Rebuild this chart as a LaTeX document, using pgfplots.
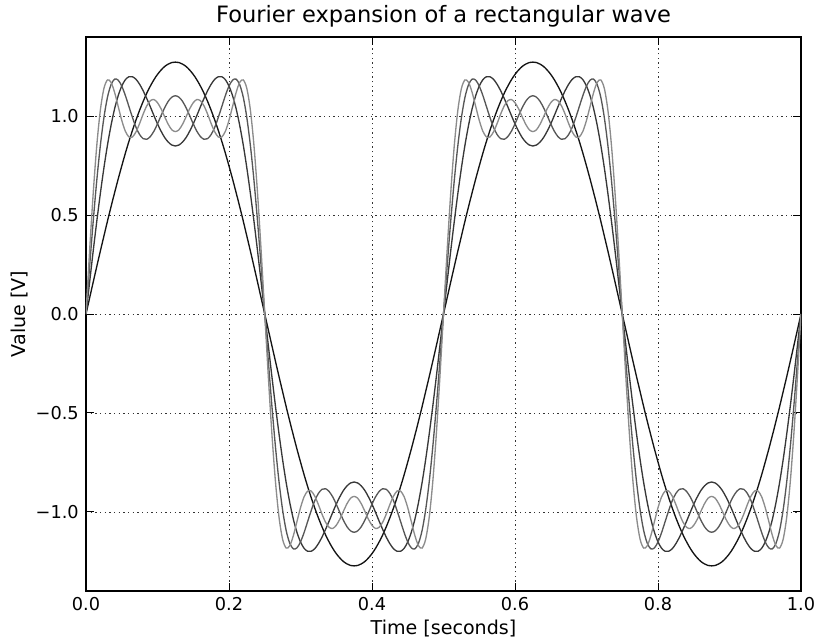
\documentclass[border=0pt]{standalone}
\usepackage{pgfplots}
\pgfplotsset{compat=1.18}
\usepackage{pgfplotstable}
\usepackage{fontspec}
\setmainfont{DejaVu Sans}
\pgfplotstableread{
t a b c d
0.000 0 0 0 0
0.005 0.080 0.159 0.238 0.316
0.010 0.160 0.316 0.465 0.606
0.015 0.239 0.466 0.672 0.848
0.020 0.317 0.607 0.849 1.028
0.025 0.393 0.737 0.991 1.139
0.030 0.469 0.853 1.095 1.183
0.035 0.542 0.953 1.159 1.171
0.040 0.613 1.037 1.187 1.120
0.045 0.682 1.103 1.182 1.049
0.050 0.748 1.152 1.152 0.979
0.055 0.812 1.184 1.105 0.924
0.060 0.872 1.199 1.049 0.895
0.065 0.928 1.199 0.993 0.895
0.070 0.981 1.186 0.943 0.921
0.075 1.030 1.161 0.907 0.963
0.080 1.075 1.128 0.886 1.011
0.085 1.116 1.089 0.883 1.052
0.090 1.152 1.047 0.897 1.078
0.095 1.184 1.003 0.924 1.084
0.100 1.211 0.961 0.961 1.068
0.105 1.233 0.924 1.003 1.037
0.110 1.251 0.892 1.042 0.997
0.115 1.263 0.869 1.075 0.959
0.120 1.271 0.854 1.096 0.931
0.125 1.273 0.849 1.103 0.922
0.130 1.271 0.854 1.096 0.931
0.135 1.263 0.869 1.075 0.959
0.140 1.251 0.892 1.042 0.997
0.145 1.233 0.924 1.003 1.037
0.150 1.211 0.961 0.961 1.068
0.155 1.184 1.003 0.924 1.084
0.160 1.152 1.047 0.897 1.078
0.165 1.116 1.089 0.883 1.052
0.170 1.075 1.128 0.886 1.011
0.175 1.030 1.161 0.907 0.963
0.180 0.981 1.186 0.943 0.921
0.185 0.928 1.199 0.993 0.895
0.190 0.872 1.199 1.049 0.895
0.195 0.812 1.184 1.105 0.924
0.200 0.748 1.152 1.152 0.979
0.205 0.682 1.103 1.182 1.049
0.210 0.613 1.037 1.187 1.120
0.215 0.542 0.953 1.159 1.171
0.220 0.469 0.853 1.095 1.183
0.225 0.393 0.737 0.991 1.139
0.230 0.317 0.607 0.849 1.028
0.235 0.239 0.466 0.672 0.848
0.240 0.160 0.316 0.465 0.606
0.245 0.080 0.159 0.238 0.316
0.250 0 0 0 0
0.255 -0.080 -0.159 -0.238 -0.316
0.260 -0.160 -0.316 -0.465 -0.606
0.265 -0.239 -0.466 -0.672 -0.848
0.270 -0.317 -0.607 -0.849 -1.028
0.275 -0.393 -0.737 -0.991 -1.139
0.280 -0.469 -0.853 -1.095 -1.183
0.285 -0.542 -0.953 -1.159 -1.171
0.290 -0.613 -1.037 -1.187 -1.120
0.295 -0.682 -1.103 -1.182 -1.049
0.300 -0.748 -1.152 -1.152 -0.979
0.305 -0.812 -1.184 -1.105 -0.924
0.310 -0.872 -1.199 -1.049 -0.895
0.315 -0.928 -1.199 -0.993 -0.895
0.320 -0.981 -1.186 -0.943 -0.921
0.325 -1.030 -1.161 -0.907 -0.963
0.330 -1.075 -1.128 -0.886 -1.011
0.335 -1.116 -1.089 -0.883 -1.052
0.340 -1.152 -1.047 -0.897 -1.078
0.345 -1.184 -1.003 -0.924 -1.084
0.350 -1.211 -0.961 -0.961 -1.068
0.355 -1.233 -0.924 -1.003 -1.037
0.360 -1.251 -0.892 -1.042 -0.997
0.365 -1.263 -0.869 -1.075 -0.959
0.370 -1.271 -0.854 -1.096 -0.931
0.375 -1.273 -0.849 -1.103 -0.922
0.380 -1.271 -0.854 -1.096 -0.931
0.385 -1.263 -0.869 -1.075 -0.959
0.390 -1.251 -0.892 -1.042 -0.997
0.395 -1.233 -0.924 -1.003 -1.037
0.400 -1.211 -0.961 -0.961 -1.068
0.405 -1.184 -1.003 -0.924 -1.084
0.410 -1.152 -1.047 -0.897 -1.078
0.415 -1.116 -1.089 -0.883 -1.052
0.420 -1.075 -1.128 -0.886 -1.011
0.425 -1.030 -1.161 -0.907 -0.963
0.430 -0.981 -1.186 -0.943 -0.921
0.435 -0.928 -1.199 -0.993 -0.895
0.440 -0.872 -1.199 -1.049 -0.895
0.445 -0.812 -1.184 -1.105 -0.924
0.450 -0.748 -1.152 -1.152 -0.979
0.455 -0.682 -1.103 -1.182 -1.049
0.460 -0.613 -1.037 -1.187 -1.120
0.465 -0.542 -0.953 -1.159 -1.171
0.470 -0.469 -0.853 -1.095 -1.183
0.475 -0.393 -0.737 -0.991 -1.139
0.480 -0.317 -0.607 -0.849 -1.028
0.485 -0.239 -0.466 -0.672 -0.848
0.490 -0.160 -0.316 -0.465 -0.606
0.495 -0.080 -0.159 -0.238 -0.316
0.500 0 0 0 0
0.505 0.080 0.159 0.238 0.316
0.510 0.160 0.316 0.465 0.606
0.515 0.239 0.466 0.672 0.848
0.520 0.317 0.607 0.849 1.028
0.525 0.393 0.737 0.991 1.139
0.530 0.469 0.853 1.095 1.183
0.535 0.542 0.953 1.159 1.171
0.540 0.613 1.037 1.187 1.120
0.545 0.682 1.103 1.182 1.049
0.550 0.748 1.152 1.152 0.979
0.555 0.812 1.184 1.105 0.924
0.560 0.872 1.199 1.049 0.895
0.565 0.928 1.199 0.993 0.895
0.570 0.981 1.186 0.943 0.921
0.575 1.030 1.161 0.907 0.963
0.580 1.075 1.128 0.886 1.011
0.585 1.116 1.089 0.883 1.052
0.590 1.152 1.047 0.897 1.078
0.595 1.184 1.003 0.924 1.084
0.600 1.211 0.961 0.961 1.068
0.605 1.233 0.924 1.003 1.037
0.610 1.251 0.892 1.042 0.997
0.615 1.263 0.869 1.075 0.959
0.620 1.271 0.854 1.096 0.931
0.625 1.273 0.849 1.103 0.922
0.630 1.271 0.854 1.096 0.931
0.635 1.263 0.869 1.075 0.959
0.640 1.251 0.892 1.042 0.997
0.645 1.233 0.924 1.003 1.037
0.650 1.211 0.961 0.961 1.068
0.655 1.184 1.003 0.924 1.084
0.660 1.152 1.047 0.897 1.078
0.665 1.116 1.089 0.883 1.052
0.670 1.075 1.128 0.886 1.011
0.675 1.030 1.161 0.907 0.963
0.680 0.981 1.186 0.943 0.921
0.685 0.928 1.199 0.993 0.895
0.690 0.872 1.199 1.049 0.895
0.695 0.812 1.184 1.105 0.924
0.700 0.748 1.152 1.152 0.979
0.705 0.682 1.103 1.182 1.049
0.710 0.613 1.037 1.187 1.120
0.715 0.542 0.953 1.159 1.171
0.720 0.469 0.853 1.095 1.183
0.725 0.393 0.737 0.991 1.139
0.730 0.317 0.607 0.849 1.028
0.735 0.239 0.466 0.672 0.848
0.740 0.160 0.316 0.465 0.606
0.745 0.080 0.159 0.238 0.316
0.750 0 0 0 0
0.755 -0.080 -0.159 -0.238 -0.316
0.760 -0.160 -0.316 -0.465 -0.606
0.765 -0.239 -0.466 -0.672 -0.848
0.770 -0.317 -0.607 -0.849 -1.028
0.775 -0.393 -0.737 -0.991 -1.139
0.780 -0.469 -0.853 -1.095 -1.183
0.785 -0.542 -0.953 -1.159 -1.171
0.790 -0.613 -1.037 -1.187 -1.120
0.795 -0.682 -1.103 -1.182 -1.049
0.800 -0.748 -1.152 -1.152 -0.979
0.805 -0.812 -1.184 -1.105 -0.924
0.810 -0.872 -1.199 -1.049 -0.895
0.815 -0.928 -1.199 -0.993 -0.895
0.820 -0.981 -1.186 -0.943 -0.921
0.825 -1.030 -1.161 -0.907 -0.963
0.830 -1.075 -1.128 -0.886 -1.011
0.835 -1.116 -1.089 -0.883 -1.052
0.840 -1.152 -1.047 -0.897 -1.078
0.845 -1.184 -1.003 -0.924 -1.084
0.850 -1.211 -0.961 -0.961 -1.068
0.855 -1.233 -0.924 -1.003 -1.037
0.860 -1.251 -0.892 -1.042 -0.997
0.865 -1.263 -0.869 -1.075 -0.959
0.870 -1.271 -0.854 -1.096 -0.931
0.875 -1.273 -0.849 -1.103 -0.922
0.880 -1.271 -0.854 -1.096 -0.931
0.885 -1.263 -0.869 -1.075 -0.959
0.890 -1.251 -0.892 -1.042 -0.997
0.895 -1.233 -0.924 -1.003 -1.037
0.900 -1.211 -0.961 -0.961 -1.068
0.905 -1.184 -1.003 -0.924 -1.084
0.910 -1.152 -1.047 -0.897 -1.078
0.915 -1.116 -1.089 -0.883 -1.052
0.920 -1.075 -1.128 -0.886 -1.011
0.925 -1.030 -1.161 -0.907 -0.963
0.930 -0.981 -1.186 -0.943 -0.921
0.935 -0.928 -1.199 -0.993 -0.895
0.940 -0.872 -1.199 -1.049 -0.895
0.945 -0.812 -1.184 -1.105 -0.924
0.950 -0.748 -1.152 -1.152 -0.979
0.955 -0.682 -1.103 -1.182 -1.049
0.960 -0.613 -1.037 -1.187 -1.120
0.965 -0.542 -0.953 -1.159 -1.171
0.970 -0.469 -0.853 -1.095 -1.183
0.975 -0.393 -0.737 -0.991 -1.139
0.980 -0.317 -0.607 -0.849 -1.028
0.985 -0.239 -0.466 -0.672 -0.848
0.990 -0.160 -0.316 -0.465 -0.606
0.995 -0.080 -0.159 -0.238 -0.316
1.000 0 0 0 0
}\wave
\begin{document}
\begin{tikzpicture}
\begin{axis}[
  scale only axis, width=536.25pt, height=415.5pt,
  xmin=0, xmax=1, ymin=-1.4, ymax=1.4,
  xtick={0,0.2,0.4,0.6,0.8,1}, xticklabels={0.0,0.2,0.4,0.6,0.8,1.0},
  ytick={-1,-0.5,0,0.5,1}, yticklabels={−1.0,−0.5,0.0,0.5,1.0},
  tick align=inside, major tick length=6pt,
  grid=major, grid style={dash pattern=on 1pt off 2.5pt, black!80, line width=0.5pt},
  axis line style={line width=1.5pt},
  tick style={black, line width=0.75pt},
  ticklabel style={font=\fontsize{13.3}{16}\selectfont},
  xticklabel style={anchor=base, yshift=-14.25pt},
  yticklabel style={anchor=east, inner xsep=0pt, xshift=-5.25pt},
  label style={font=\fontsize{14.3}{17}\selectfont},
  xlabel style={at={(axis description cs:0.5,-0.0776)}, anchor=base},
  ylabel style={at={(axis description cs:-0.0853,0.5)}, anchor=base, rotate=0},
  title style={font=\fontsize{16.9}{20}\selectfont, at={(axis description cs:0.5,1.011)}, anchor=base, yshift=0pt},
  title={Fourier expansion of a rectangular wave},
  xlabel={Time [seconds]}, ylabel={Value [V]},
]
\addplot[black!92, line width=1pt, smooth] table[x=t,y=a]{\wave};
\addplot[black!78, line width=1pt, smooth] table[x=t,y=b]{\wave};
\addplot[black!66, line width=1pt, smooth] table[x=t,y=c]{\wave};
\addplot[black!45, line width=1pt, smooth] table[x=t,y=d]{\wave};
\coordinate (sw) at (rel axis cs:0,0);
\coordinate (ne) at (rel axis cs:1,1);
\end{axis}
\pgfresetboundingbox
\path[use as bounding box] ([shift={(-64.5pt,-36pt)}]sw) rectangle ([shift={(11.25pt,27.75pt)}]ne);
\end{tikzpicture}
\end{document}
